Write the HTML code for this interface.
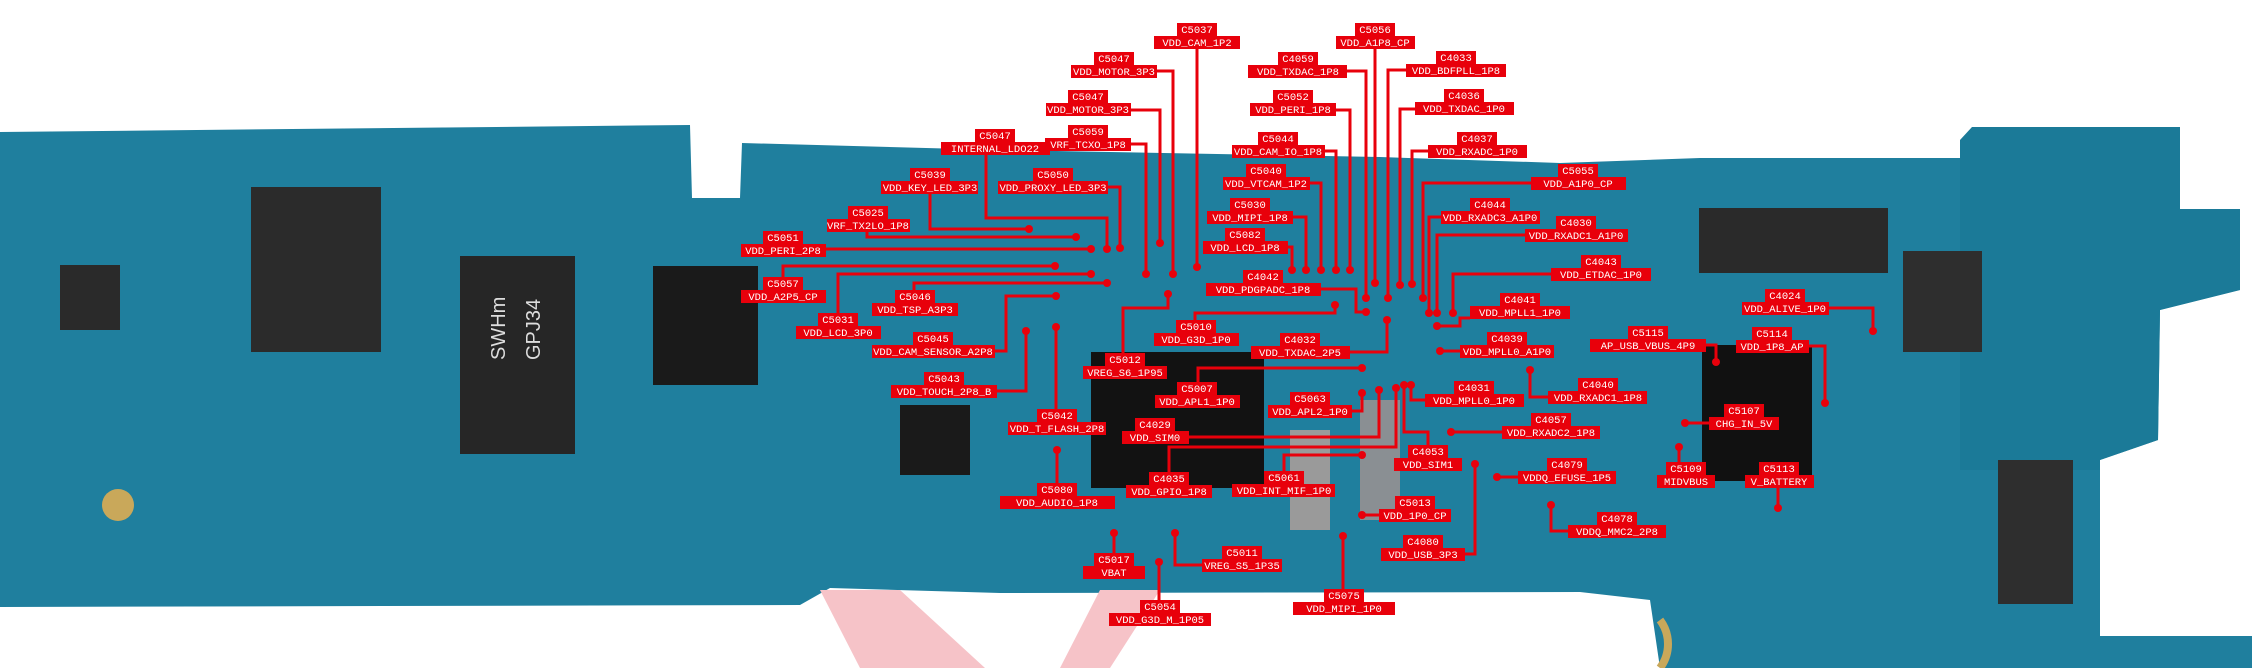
<!DOCTYPE html>
<html><head><meta charset="utf-8"><style>
html,body{margin:0;padding:0;background:#fff;width:2252px;height:668px;overflow:hidden}
svg{display:block}
.t{font-family:"Liberation Mono","DejaVu Sans Mono",monospace;font-size:10.5px;fill:#fff;text-anchor:middle}
.b{fill:#e8000b}
.l{fill:none;stroke:#e8000b;stroke-width:3}
</style></head><body>
<svg width="2252" height="668" viewBox="0 0 2252 668" xmlns="http://www.w3.org/2000/svg">
<!-- board -->
<path d="M0,132 L690,125 L692,198 L740,198 L742,143 L1000,150 L1380,157 L1560,163 L1700,158 L1965,158 L1972,127 L2180,127 L2180,209 L2240,209 L2240,290 L2160,310 L2158,440 L2100,460 L2100,636 L2252,636 L2252,668 L1660,668 L1650,600 L1580,592 L1000,593 L830,588 L800,605 L0,607 Z" fill="#1f7f9e"/>
<path d="M1972,127 L2180,127 L2180,209 L2240,209 L2240,290 L2160,310 L2158,440 L2100,460 L2100,470 L1960,470 L1960,140 Z" fill="#1b7a98"/>
<path d="M820,590 L900,590 L985,668 L860,668 Z" fill="#f6c3c8"/>
<path d="M1100,590 L1160,590 L1110,668 L1060,668 Z" fill="#f6c3c8"/>
<path d="M1660,620 a40,40 0 0 1 0,48" fill="none" stroke="#c9a85a" stroke-width="8"/>
<!-- chips -->
<rect x="251" y="187" width="130" height="165" fill="#2b2b2b"/>
<rect x="460" y="256" width="115" height="198" fill="#262626"/>
<text x="505" y="360" font-family="Liberation Sans,sans-serif" font-size="20" fill="#ddd" transform="rotate(-90 505 360)">SWHm</text>
<text x="540" y="360" font-family="Liberation Sans,sans-serif" font-size="20" fill="#ddd" transform="rotate(-90 540 360)">GPJ34</text>
<rect x="653" y="266" width="105" height="119" fill="#1a1a1a"/>
<rect x="1091" y="352" width="173" height="136" fill="#121212"/>
<rect x="1702" y="345" width="110" height="136" fill="#111"/>
<rect x="1699" y="208" width="189" height="65" fill="#2a2a2a"/>
<rect x="1903" y="251" width="79" height="101" fill="#2e2e2e"/>
<rect x="1998" y="460" width="75" height="144" fill="#2e2e2e"/>
<rect x="900" y="405" width="70" height="70" fill="#1a1a1a"/>
<rect x="1360" y="400" width="40" height="120" fill="#8a8f93"/>
<rect x="1290" y="430" width="40" height="100" fill="#9a9a9a"/>
<rect x="60" y="265" width="60" height="65" fill="#2a2a2a"/>
<circle cx="118" cy="505" r="16" fill="#c9a85a"/>
<!-- connectors -->
<polyline class="l" points="1197,49 1197,267"/>
<polyline class="l" points="1157,71 1173,71 1173,274"/>
<polyline class="l" points="1131,110 1160,110 1160,243"/>
<polyline class="l" points="1131,144 1146,144 1146,274"/>
<polyline class="l" points="1347,71 1366,71 1366,298"/>
<polyline class="l" points="1375,49 1375,283"/>
<polyline class="l" points="1406,70 1388,70 1388,298"/>
<polyline class="l" points="1336,110 1350,110 1350,270"/>
<polyline class="l" points="1415,109 1400,109 1400,285"/>
<polyline class="l" points="1325,151 1336,151 1336,270"/>
<polyline class="l" points="1428,151 1412,151 1412,284"/>
<polyline class="l" points="1310,183 1321,183 1321,270"/>
<polyline class="l" points="1531,183 1423,183 1423,298"/>
<polyline class="l" points="1293,217 1306,217 1306,270"/>
<polyline class="l" points="1441,217 1429,217 1429,313"/>
<polyline class="l" points="1525,235 1437,235 1437,313"/>
<polyline class="l" points="1288,247 1292,247 1292,270"/>
<polyline class="l" points="1551,274 1453,274 1453,313"/>
<polyline class="l" points="1321,289 1356,289 1356,312 1366,312"/>
<polyline class="l" points="1470,318 1460,318 1460,326 1437,326"/>
<polyline class="l" points="986,155 986,218 1107,218 1107,249"/>
<polyline class="l" points="930,193 930,229 1029,229"/>
<polyline class="l" points="1108,187 1120,187 1120,248"/>
<polyline class="l" points="867,231 867,237 1076,237"/>
<polyline class="l" points="826,249 1091,249"/>
<polyline class="l" points="783,290 783,266 1055,266"/>
<polyline class="l" points="914,290 914,283 1107,283"/>
<polyline class="l" points="838,313 838,274 1091,274"/>
<polyline class="l" points="995,351 1006,351 1006,296 1056,296"/>
<polyline class="l" points="997,391 1026,391 1026,331"/>
<polyline class="l" points="1056,409 1056,327"/>
<polyline class="l" points="1123,353 1123,308 1168,308 1168,294"/>
<polyline class="l" points="1195,320 1195,313 1335,313 1335,305"/>
<polyline class="l" points="1350,352 1387,352 1387,320"/>
<polyline class="l" points="1198,382 1198,368 1362,368"/>
<polyline class="l" points="1352,411 1362,411 1362,393"/>
<polyline class="l" points="1189,437 1379,437 1379,390"/>
<polyline class="l" points="1425,400 1411,400 1411,385"/>
<polyline class="l" points="1548,397 1530,397 1530,370"/>
<polyline class="l" points="1502,432 1451,432"/>
<polyline class="l" points="1428,445 1428,432 1404,432 1404,385"/>
<polyline class="l" points="1169,472 1169,447 1396,447 1396,388"/>
<polyline class="l" points="1518,477 1497,477"/>
<polyline class="l" points="1284,471 1284,455 1362,455"/>
<polyline class="l" points="1057,483 1057,450"/>
<polyline class="l" points="1679,462 1679,447"/>
<polyline class="l" points="1778,488 1778,508"/>
<polyline class="l" points="1709,423 1685,423"/>
<polyline class="l" points="1379,515 1362,515"/>
<polyline class="l" points="1568,531 1551,531 1551,505"/>
<polyline class="l" points="1465,554 1475,554 1475,464"/>
<polyline class="l" points="1114,553 1114,533"/>
<polyline class="l" points="1202,565 1175,565 1175,533"/>
<polyline class="l" points="1159,600 1159,562"/>
<polyline class="l" points="1343,589 1343,536"/>
<polyline class="l" points="1829,308 1873,308 1873,331"/>
<polyline class="l" points="1809,346 1825,346 1825,403"/>
<polyline class="l" points="1706,345 1716,345 1716,362"/>
<polyline class="l" points="1460,351 1440,351"/>
<g fill="#e8000b">
<circle cx="1197" cy="267" r="4"/><circle cx="1173" cy="274" r="4"/><circle cx="1160" cy="243" r="4"/><circle cx="1146" cy="274" r="4"/>
<circle cx="1366" cy="298" r="4"/><circle cx="1375" cy="283" r="4"/><circle cx="1388" cy="298" r="4"/><circle cx="1350" cy="270" r="4"/>
<circle cx="1400" cy="285" r="4"/><circle cx="1336" cy="270" r="4"/><circle cx="1412" cy="284" r="4"/><circle cx="1321" cy="270" r="4"/>
<circle cx="1423" cy="298" r="4"/><circle cx="1306" cy="270" r="4"/><circle cx="1429" cy="313" r="4"/><circle cx="1437" cy="313" r="4"/>
<circle cx="1292" cy="270" r="4"/><circle cx="1453" cy="313" r="4"/><circle cx="1366" cy="312" r="4"/><circle cx="1437" cy="326" r="4"/>
<circle cx="1107" cy="249" r="4"/><circle cx="1029" cy="229" r="4"/><circle cx="1120" cy="248" r="4"/><circle cx="1076" cy="237" r="4"/>
<circle cx="1091" cy="249" r="4"/><circle cx="1055" cy="266" r="4"/><circle cx="1107" cy="283" r="4"/><circle cx="1091" cy="274" r="4"/>
<circle cx="1056" cy="296" r="4"/><circle cx="1026" cy="331" r="4"/><circle cx="1056" cy="327" r="4"/><circle cx="1168" cy="294" r="4"/>
<circle cx="1335" cy="305" r="4"/><circle cx="1387" cy="320" r="4"/><circle cx="1362" cy="368" r="4"/><circle cx="1362" cy="393" r="4"/>
<circle cx="1379" cy="390" r="4"/><circle cx="1411" cy="385" r="4"/><circle cx="1530" cy="370" r="4"/><circle cx="1451" cy="432" r="4"/>
<circle cx="1404" cy="385" r="4"/><circle cx="1396" cy="388" r="4"/><circle cx="1497" cy="477" r="4"/><circle cx="1362" cy="455" r="4"/>
<circle cx="1057" cy="450" r="4"/><circle cx="1679" cy="447" r="4"/><circle cx="1778" cy="508" r="4"/><circle cx="1685" cy="423" r="4"/>
<circle cx="1362" cy="515" r="4"/><circle cx="1551" cy="505" r="4"/><circle cx="1475" cy="464" r="4"/><circle cx="1114" cy="533" r="4"/>
<circle cx="1175" cy="533" r="4"/><circle cx="1159" cy="562" r="4"/><circle cx="1343" cy="536" r="4"/><circle cx="1873" cy="331" r="4"/>
<circle cx="1825" cy="403" r="4"/><circle cx="1716" cy="362" r="4"/><circle cx="1440" cy="351" r="4"/>
</g>
<!-- labels -->
<g id="labels">
<rect class="b" x="1177" y="23" width="40" height="13"/><text class="t" x="1197" y="33">C5037</text><rect class="b" x="1154" y="36" width="86" height="13"/><text class="t" x="1197" y="46">VDD_CAM_1P2</text>
<rect class="b" x="1094" y="52" width="40" height="13"/><text class="t" x="1114" y="62">C5047</text><rect class="b" x="1071" y="65" width="86" height="13"/><text class="t" x="1114" y="75">VDD_MOTOR_3P3</text>
<rect class="b" x="1068" y="90" width="40" height="13"/><text class="t" x="1088" y="100">C5047</text><rect class="b" x="1046" y="103" width="85" height="13"/><text class="t" x="1088" y="113">VDD_MOTOR_3P3</text>
<rect class="b" x="1068" y="125" width="40" height="13"/><text class="t" x="1088" y="135">C5059</text><rect class="b" x="1045" y="138" width="86" height="13"/><text class="t" x="1088" y="148">VRF_TCXO_1P8</text>
<rect class="b" x="1278" y="52" width="40" height="13"/><text class="t" x="1298" y="62">C4059</text><rect class="b" x="1248" y="65" width="99" height="13"/><text class="t" x="1298" y="75">VDD_TXDAC_1P8</text>
<rect class="b" x="1355" y="23" width="40" height="13"/><text class="t" x="1375" y="33">C5056</text><rect class="b" x="1336" y="36" width="79" height="13"/><text class="t" x="1375" y="46">VDD_A1P8_CP</text>
<rect class="b" x="1436" y="51" width="40" height="13"/><text class="t" x="1456" y="61">C4033</text><rect class="b" x="1406" y="64" width="100" height="13"/><text class="t" x="1456" y="74">VDD_BDFPLL_1P8</text>
<rect class="b" x="1273" y="90" width="40" height="13"/><text class="t" x="1293" y="100">C5052</text><rect class="b" x="1250" y="103" width="86" height="13"/><text class="t" x="1293" y="113">VDD_PERI_1P8</text>
<rect class="b" x="1444" y="89" width="40" height="13"/><text class="t" x="1464" y="99">C4036</text><rect class="b" x="1415" y="102" width="99" height="13"/><text class="t" x="1464" y="112">VDD_TXDAC_1P0</text>
<rect class="b" x="1258" y="132" width="40" height="13"/><text class="t" x="1278" y="142">C5044</text><rect class="b" x="1232" y="145" width="93" height="13"/><text class="t" x="1278" y="155">VDD_CAM_IO_1P8</text>
<rect class="b" x="1457" y="132" width="40" height="13"/><text class="t" x="1477" y="142">C4037</text><rect class="b" x="1428" y="145" width="99" height="13"/><text class="t" x="1477" y="155">VDD_RXADC_1P0</text>
<rect class="b" x="1246" y="164" width="40" height="13"/><text class="t" x="1266" y="174">C5040</text><rect class="b" x="1223" y="177" width="87" height="13"/><text class="t" x="1266" y="187">VDD_VTCAM_1P2</text>
<rect class="b" x="1558" y="164" width="40" height="13"/><text class="t" x="1578" y="174">C5055</text><rect class="b" x="1531" y="177" width="95" height="13"/><text class="t" x="1578" y="187">VDD_A1P0_CP</text>
<rect class="b" x="1230" y="198" width="40" height="13"/><text class="t" x="1250" y="208">C5030</text><rect class="b" x="1207" y="211" width="86" height="13"/><text class="t" x="1250" y="221">VDD_MIPI_1P8</text>
<rect class="b" x="1470" y="198" width="40" height="13"/><text class="t" x="1490" y="208">C4044</text><rect class="b" x="1441" y="211" width="99" height="13"/><text class="t" x="1490" y="221">VDD_RXADC3_A1P0</text>
<rect class="b" x="1556" y="216" width="40" height="13"/><text class="t" x="1576" y="226">C4030</text><rect class="b" x="1525" y="229" width="103" height="13"/><text class="t" x="1576" y="239">VDD_RXADC1_A1P0</text>
<rect class="b" x="1225" y="228" width="40" height="13"/><text class="t" x="1245" y="238">C5082</text><rect class="b" x="1203" y="241" width="85" height="13"/><text class="t" x="1245" y="251">VDD_LCD_1P8</text>
<rect class="b" x="1581" y="255" width="40" height="13"/><text class="t" x="1601" y="265">C4043</text><rect class="b" x="1551" y="268" width="100" height="13"/><text class="t" x="1601" y="278">VDD_ETDAC_1P0</text>
<rect class="b" x="1243" y="270" width="40" height="13"/><text class="t" x="1263" y="280">C4042</text><rect class="b" x="1206" y="283" width="115" height="13"/><text class="t" x="1263" y="293">VDD_PDGPADC_1P8</text>
<rect class="b" x="1500" y="293" width="40" height="13"/><text class="t" x="1520" y="303">C4041</text><rect class="b" x="1470" y="306" width="100" height="13"/><text class="t" x="1520" y="316">VDD_MPLL1_1P0</text>
<rect class="b" x="975" y="129" width="40" height="13"/><text class="t" x="995" y="139">C5047</text><rect class="b" x="941" y="142" width="109" height="13"/><text class="t" x="995" y="152">INTERNAL_LDO22</text>
<rect class="b" x="910" y="168" width="40" height="13"/><text class="t" x="930" y="178">C5039</text><rect class="b" x="881" y="181" width="97" height="13"/><text class="t" x="930" y="191">VDD_KEY_LED_3P3</text>
<rect class="b" x="1033" y="168" width="40" height="13"/><text class="t" x="1053" y="178">C5050</text><rect class="b" x="998" y="181" width="110" height="13"/><text class="t" x="1053" y="191">VDD_PROXY_LED_3P3</text>
<rect class="b" x="848" y="206" width="40" height="13"/><text class="t" x="868" y="216">C5025</text><rect class="b" x="827" y="219" width="83" height="13"/><text class="t" x="868" y="229">VRF_TX2LO_1P8</text>
<rect class="b" x="763" y="231" width="40" height="13"/><text class="t" x="783" y="241">C5051</text><rect class="b" x="741" y="244" width="85" height="13"/><text class="t" x="783" y="254">VDD_PERI_2P8</text>
<rect class="b" x="763" y="277" width="40" height="13"/><text class="t" x="783" y="287">C5057</text><rect class="b" x="741" y="290" width="85" height="13"/><text class="t" x="783" y="300">VDD_A2P5_CP</text>
<rect class="b" x="895" y="290" width="40" height="13"/><text class="t" x="915" y="300">C5046</text><rect class="b" x="872" y="303" width="86" height="13"/><text class="t" x="915" y="313">VDD_TSP_A3P3</text>
<rect class="b" x="818" y="313" width="40" height="13"/><text class="t" x="838" y="323">C5031</text><rect class="b" x="796" y="326" width="85" height="13"/><text class="t" x="838" y="336">VDD_LCD_3P0</text>
<rect class="b" x="913" y="332" width="40" height="13"/><text class="t" x="933" y="342">C5045</text><rect class="b" x="872" y="345" width="123" height="13"/><text class="t" x="933" y="355">VDD_CAM_SENSOR_A2P8</text>
<rect class="b" x="924" y="372" width="40" height="13"/><text class="t" x="944" y="382">C5043</text><rect class="b" x="891" y="385" width="106" height="13"/><text class="t" x="944" y="395">VDD_TOUCH_2P8_B</text>
<rect class="b" x="1037" y="409" width="40" height="13"/><text class="t" x="1057" y="419">C5042</text><rect class="b" x="1008" y="422" width="98" height="13"/><text class="t" x="1057" y="432">VDD_T_FLASH_2P8</text>
<rect class="b" x="1105" y="353" width="40" height="13"/><text class="t" x="1125" y="363">C5012</text><rect class="b" x="1083" y="366" width="84" height="13"/><text class="t" x="1125" y="376">VREG_S6_1P95</text>
<rect class="b" x="1176" y="320" width="40" height="13"/><text class="t" x="1196" y="330">C5010</text><rect class="b" x="1154" y="333" width="85" height="13"/><text class="t" x="1196" y="343">VDD_G3D_1P0</text>
<rect class="b" x="1280" y="333" width="40" height="13"/><text class="t" x="1300" y="343">C4032</text><rect class="b" x="1251" y="346" width="99" height="13"/><text class="t" x="1300" y="356">VDD_TXDAC_2P5</text>
<rect class="b" x="1177" y="382" width="40" height="13"/><text class="t" x="1197" y="392">C5007</text><rect class="b" x="1155" y="395" width="85" height="13"/><text class="t" x="1197" y="405">VDD_APL1_1P0</text>
<rect class="b" x="1290" y="392" width="40" height="13"/><text class="t" x="1310" y="402">C5063</text><rect class="b" x="1268" y="405" width="84" height="13"/><text class="t" x="1310" y="415">VDD_APL2_1P0</text>
<rect class="b" x="1135" y="418" width="40" height="13"/><text class="t" x="1155" y="428">C4029</text><rect class="b" x="1122" y="431" width="67" height="13"/><text class="t" x="1155" y="441">VDD_SIM0</text>
<rect class="b" x="1454" y="381" width="40" height="13"/><text class="t" x="1474" y="391">C4031</text><rect class="b" x="1425" y="394" width="99" height="13"/><text class="t" x="1474" y="404">VDD_MPLL0_1P0</text>
<rect class="b" x="1578" y="378" width="40" height="13"/><text class="t" x="1598" y="388">C4040</text><rect class="b" x="1548" y="391" width="99" height="13"/><text class="t" x="1598" y="401">VDD_RXADC1_1P8</text>
<rect class="b" x="1531" y="413" width="40" height="13"/><text class="t" x="1551" y="423">C4057</text><rect class="b" x="1502" y="426" width="98" height="13"/><text class="t" x="1551" y="436">VDD_RXADC2_1P8</text>
<rect class="b" x="1408" y="445" width="40" height="13"/><text class="t" x="1428" y="455">C4053</text><rect class="b" x="1394" y="458" width="68" height="13"/><text class="t" x="1428" y="468">VDD_SIM1</text>
<rect class="b" x="1149" y="472" width="40" height="13"/><text class="t" x="1169" y="482">C4035</text><rect class="b" x="1126" y="485" width="86" height="13"/><text class="t" x="1169" y="495">VDD_GPIO_1P8</text>
<rect class="b" x="1547" y="458" width="40" height="13"/><text class="t" x="1567" y="468">C4079</text><rect class="b" x="1518" y="471" width="98" height="13"/><text class="t" x="1567" y="481">VDDQ_EFUSE_1P5</text>
<rect class="b" x="1264" y="471" width="40" height="13"/><text class="t" x="1284" y="481">C5061</text><rect class="b" x="1232" y="484" width="103" height="13"/><text class="t" x="1284" y="494">VDD_INT_MIF_1P0</text>
<rect class="b" x="1037" y="483" width="40" height="13"/><text class="t" x="1057" y="493">C5080</text><rect class="b" x="1000" y="496" width="115" height="13"/><text class="t" x="1057" y="506">VDD_AUDIO_1P8</text>
<rect class="b" x="1666" y="462" width="40" height="13"/><text class="t" x="1686" y="472">C5109</text><rect class="b" x="1657" y="475" width="58" height="13"/><text class="t" x="1686" y="485">MIDVBUS</text>
<rect class="b" x="1759" y="462" width="40" height="13"/><text class="t" x="1779" y="472">C5113</text><rect class="b" x="1745" y="475" width="69" height="13"/><text class="t" x="1779" y="485">V_BATTERY</text>
<rect class="b" x="1724" y="404" width="40" height="13"/><text class="t" x="1744" y="414">C5107</text><rect class="b" x="1709" y="417" width="70" height="13"/><text class="t" x="1744" y="427">CHG_IN_5V</text>
<rect class="b" x="1395" y="496" width="40" height="13"/><text class="t" x="1415" y="506">C5013</text><rect class="b" x="1379" y="509" width="72" height="13"/><text class="t" x="1415" y="519">VDD_1P0_CP</text>
<rect class="b" x="1597" y="512" width="40" height="13"/><text class="t" x="1617" y="522">C4078</text><rect class="b" x="1568" y="525" width="98" height="13"/><text class="t" x="1617" y="535">VDDQ_MMC2_2P8</text>
<rect class="b" x="1403" y="535" width="40" height="13"/><text class="t" x="1423" y="545">C4080</text><rect class="b" x="1381" y="548" width="84" height="13"/><text class="t" x="1423" y="558">VDD_USB_3P3</text>
<rect class="b" x="1094" y="553" width="40" height="13"/><text class="t" x="1114" y="563">C5017</text><rect class="b" x="1083" y="566" width="62" height="13"/><text class="t" x="1114" y="576">VBAT</text>
<rect class="b" x="1222" y="546" width="40" height="13"/><text class="t" x="1242" y="556">C5011</text><rect class="b" x="1202" y="559" width="80" height="13"/><text class="t" x="1242" y="569">VREG_S5_1P35</text>
<rect class="b" x="1140" y="600" width="40" height="13"/><text class="t" x="1160" y="610">C5054</text><rect class="b" x="1109" y="613" width="102" height="13"/><text class="t" x="1160" y="623">VDD_G3D_M_1P05</text>
<rect class="b" x="1324" y="589" width="40" height="13"/><text class="t" x="1344" y="599">C5075</text><rect class="b" x="1293" y="602" width="102" height="13"/><text class="t" x="1344" y="612">VDD_MIPI_1P0</text>
<rect class="b" x="1765" y="289" width="40" height="13"/><text class="t" x="1785" y="299">C4024</text><rect class="b" x="1742" y="302" width="87" height="13"/><text class="t" x="1785" y="312">VDD_ALIVE_1P0</text>
<rect class="b" x="1752" y="327" width="40" height="13"/><text class="t" x="1772" y="337">C5114</text><rect class="b" x="1736" y="340" width="73" height="13"/><text class="t" x="1772" y="350">VDD_1P8_AP</text>
<rect class="b" x="1628" y="326" width="40" height="13"/><text class="t" x="1648" y="336">C5115</text><rect class="b" x="1590" y="339" width="116" height="13"/><text class="t" x="1648" y="349">AP_USB_VBUS_4P9</text>
<rect class="b" x="1487" y="332" width="40" height="13"/><text class="t" x="1507" y="342">C4039</text><rect class="b" x="1460" y="345" width="94" height="13"/><text class="t" x="1507" y="355">VDD_MPLL0_A1P0</text>
</g>
</svg>
</body></html>
